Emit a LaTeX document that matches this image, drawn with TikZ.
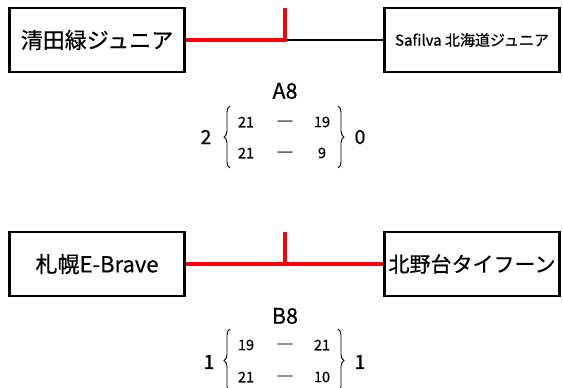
\documentclass[tikz,border=0pt]{standalone}
\usepackage{fontspec}
\setmainfont{Noto Sans CJK JP}[FakeBold=0.6]
\usetikzlibrary{decorations.pathreplacing}
\tikzset{
  team/.style={draw=black, line width=2.3pt, minimum width=175pt, minimum height=64pt, inner sep=0pt, anchor=center},
  win/.style={draw=red, line width=3.2pt},
  lose/.style={draw=black, line width=1.8pt},
  score/.style={font=\fontsize{14.5}{14.5}\selectfont, inner sep=0pt},
  dsh/.style={font=\fontsize{17}{17}\selectfont, inner sep=0pt, yshift=-2pt},
  total/.style={font=\fontsize{19.5}{19.5}\selectfont, inner sep=0pt},
  label/.style={font=\fontsize{21.5}{21.5}\selectfont, inner sep=0pt},
  brc/.style={draw=black, line width=0.9pt, decorate, decoration={brace, amplitude=6pt}}
}
\begin{document}
\begin{tikzpicture}[x=1pt,y=-1pt]
\useasboundingbox (0,0) rectangle (563,388);
% Match A8
\node[team, font=\fontsize{22}{22}\selectfont] (t1) at (97,40) {清田緑ジュニア};
\node[team, font=\fontsize{15}{15}\selectfont] (t2) at (472,40) {Safilva 北海道ジュニア};
\coordinate (j1) at (285,40);
\coordinate (j1top) at (285,8);
\draw[lose] (j1) -- (t2.west);
\draw[win] (t1.east) -- (j1) -- (j1top);
\node[label] (a8) at (285,91) {A8};
\node[total] (a8l) at (206,137) {2};
\node[total] (a8r) at (360,137) {0};
\node[score] (a8s1) at (246,122) {21};
\node[dsh] (a8d1) at (285,122) {―};
\node[score] (a8o1) at (322,122) {19};
\node[score] (a8s2) at (246,153) {21};
\node[dsh] (a8d2) at (285,153) {―};
\node[score] (a8o2) at (322,153) {9};
\coordinate (a8bl1) at (230,168);
\coordinate (a8bl2) at (230,106);
\coordinate (a8br1) at (338,106);
\coordinate (a8br2) at (338,168);
\draw[brc] (a8bl1) -- (a8bl2);
\draw[brc] (a8br1) -- (a8br2);
% Match B8
\node[team, font=\fontsize{22}{22}\selectfont] (t3) at (97,264) {札幌E-Brave};
\node[team, font=\fontsize{21}{21}\selectfont] (t4) at (472,264) {北野台タイフーン};
\coordinate (j2) at (285,264);
\coordinate (j2top) at (285,232);
\draw[win] (t3.east) -- (j2) -- (t4.west);
\draw[win] (j2) -- (j2top);
\node[label] (b8) at (285,316) {B8};
\node[total] (b8l) at (209,362) {1};
\node[total] (b8r) at (360,362) {1};
\node[score] (b8s1) at (246,345) {19};
\node[dsh] (b8d1) at (285,345) {―};
\node[score] (b8o1) at (322,345) {21};
\node[score] (b8s2) at (246,377) {21};
\node[dsh] (b8d2) at (285,377) {―};
\node[score] (b8o2) at (322,377) {10};
\coordinate (b8bl1) at (230,392);
\coordinate (b8bl2) at (230,329);
\coordinate (b8br1) at (338,329);
\coordinate (b8br2) at (338,392);
\draw[brc] (b8bl1) -- (b8bl2);
\draw[brc] (b8br1) -- (b8br2);
\end{tikzpicture}
\end{document}
